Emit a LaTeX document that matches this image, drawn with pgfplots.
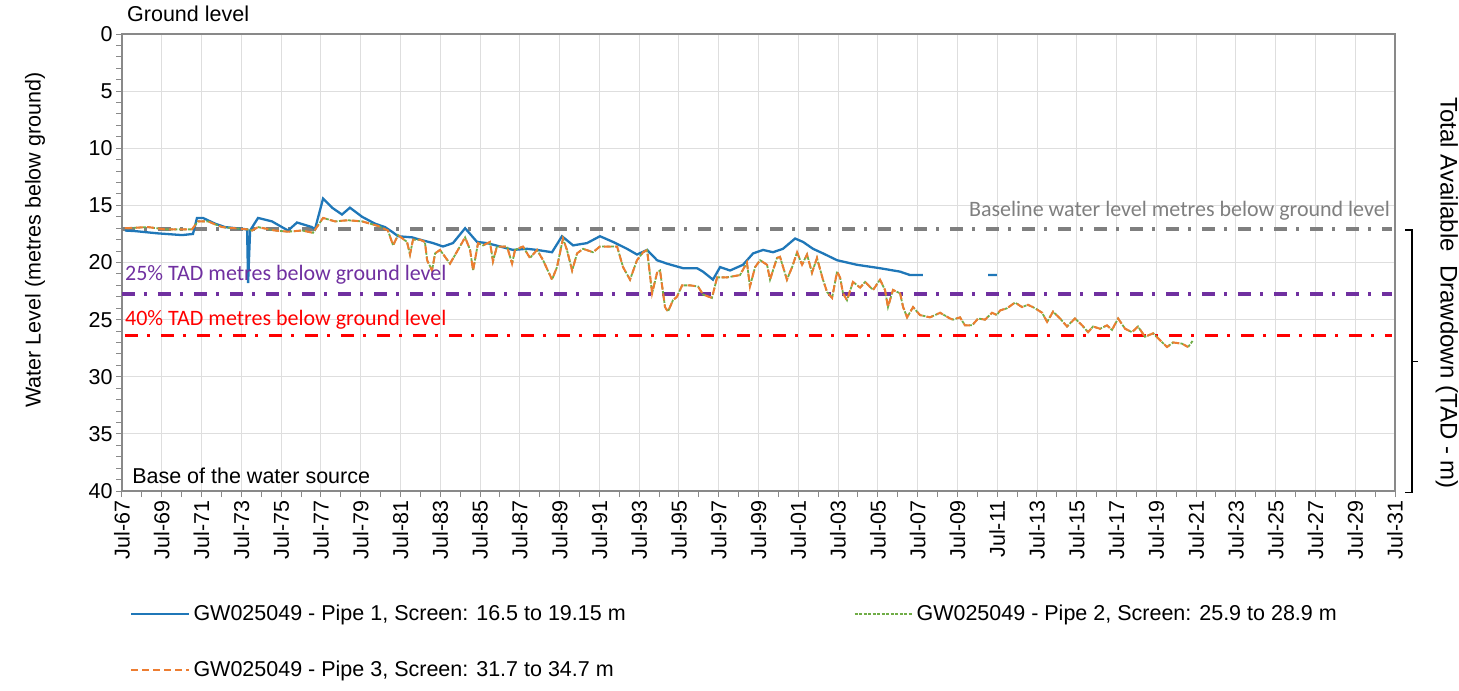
\documentclass[border=0pt]{standalone}
\usepackage{pgfplots}
\pgfplotsset{compat=1.18}
\usepackage{pgfplotstable}
\usepackage{fontspec}
\setmainfont{Liberation Sans}
\newfontfamily\calibri{Carlito}
\definecolor{pblue}{RGB}{31,119,184}
\definecolor{porange}{RGB}{237,125,49}
\definecolor{pgreen}{RGB}{112,173,71}
\definecolor{basegray}{RGB}{127,127,127}
\definecolor{tadpurple}{RGB}{112,48,160}
\definecolor{tadred}{RGB}{255,0,0}
\definecolor{gridgray}{RGB}{222,222,222}
\definecolor{axisgray}{RGB}{137,137,137}
\newcommand\af{\fontsize{21.5bp}{25bp}\selectfont}
\newcommand\rf{\fontsize{24bp}{28bp}\selectfont}
\newcommand\cf{\calibri\fontsize{22bp}{26bp}\selectfont}

\pgfplotstableread{
x y
1967.65 17.2
1968.15 17.25
1969.31 17.45
1970.52 17.6
1971.07 17.5
1971.27 16.1
1971.57 16.1
1972.18 16.6
1972.68 16.9
1973.79 17.1
1973.84 21.8
1973.94 17.2
1974.34 16.1
1975.04 16.4
1975.54 16.9
1975.85 17.2
1976.30 16.5
1977.05 16.9
1977.20 17.1
1977.61 14.4
1978.06 15.2
1978.56 15.8
1978.96 15.2
1979.57 16.0
1980.22 16.6
1980.72 16.9
1981.07 17.3
1981.38 17.7
1982.08 17.8
1982.48 18.0
1983.14 18.3
1983.64 18.6
1984.14 18.3
1984.75 17.0
1985.35 18.2
1985.85 18.3
1986.51 18.6
1987.16 18.9
1987.86 18.8
1988.37 18.9
1989.12 19.1
1989.62 17.7
1990.18 18.5
1990.88 18.3
1991.53 17.7
1992.19 18.2
1992.89 18.8
1993.39 19.3
1993.90 18.9
1994.40 19.8
1994.90 20.1
1995.71 20.5
1996.41 20.5
1996.71 20.8
1997.21 21.5
1997.57 20.4
1998.07 20.7
1998.72 20.2
1999.23 19.2
1999.73 18.9
2000.23 19.1
2000.73 18.8
2001.34 17.9
2001.74 18.2
2002.24 18.8
2002.74 19.2
2003.45 19.8
2004.45 20.2
2005.61 20.5
2006.62 20.8
2007.12 21.1
2007.77 21.1
2009.00 nan
2011.04 21.1
2011.49 21.1
}\pipeone

\pgfplotstableread{
x y
1967.65 17.0
1968.81 16.9
1969.66 17.1
1971.02 17.1
1971.32 16.4
1971.82 16.4
1972.53 16.9
1973.79 17.1
1974.04 17.2
1974.34 16.9
1975.19 17.2
1975.85 17.3
1976.55 17.2
1977.10 17.4
1977.61 16.1
1978.21 16.4
1978.86 16.3
1979.57 16.4
1980.37 16.8
1980.87 17.2
1981.13 18.5
1981.38 17.6
1981.83 18.2
1981.98 19.3
1982.13 18.0
1982.48 18.0
1982.73 18.2
1982.84 19.8
1983.09 20.7
1983.24 19.2
1983.49 18.9
1983.99 20.1
1984.39 18.9
1984.75 17.8
1985.00 18.9
1985.15 20.7
1985.40 18.3
1985.65 18.5
1986.00 18.2
1986.15 19.9
1986.35 18.6
1986.86 18.6
1987.11 20.1
1987.26 18.9
1987.66 18.6
1988.01 19.6
1988.37 18.9
1988.67 19.8
1989.12 21.5
1989.37 20.4
1989.67 17.9
1989.87 18.9
1990.13 20.7
1990.38 19.2
1990.68 18.8
1991.18 19.1
1991.53 18.6
1991.89 18.6
1992.39 18.6
1992.69 20.4
1993.04 21.5
1993.39 19.8
1993.70 19.1
1993.90 18.9
1994.15 22.7
1994.40 20.9
1994.55 20.7
1994.80 23.9
1994.95 24.3
1995.20 23.3
1995.40 23.0
1995.66 22.0
1996.06 22.0
1996.46 22.1
1996.71 22.8
1997.16 23.1
1997.42 21.3
1997.92 21.3
1998.57 21.1
1998.92 20.0
1999.07 22.1
1999.33 20.4
1999.58 19.8
1999.93 20.2
2000.08 21.5
2000.43 19.6
2000.58 19.5
2000.93 21.5
2001.19 20.4
2001.44 19.1
2001.69 20.2
2001.94 19.3
2002.19 20.9
2002.44 19.6
2002.74 21.5
2002.95 22.6
2003.20 23.1
2003.45 20.8
2003.60 21.3
2003.75 22.7
2003.95 23.3
2004.25 21.7
2004.61 22.2
2004.86 21.7
2005.26 22.4
2005.61 21.5
2005.86 22.4
2006.01 23.9
2006.26 22.4
2006.62 22.7
2006.77 23.9
2006.97 24.8
2007.27 23.9
2007.62 24.6
2008.12 24.8
2008.63 24.4
2009.13 24.9
2009.28 25.0
2009.63 24.8
2009.88 25.5
2010.24 25.5
2010.54 24.9
2010.89 25.0
2011.24 24.4
2011.49 24.6
2011.64 24.2
2012.00 24.0
2012.40 23.5
2012.75 23.9
2013.05 23.7
2013.40 24.0
2013.76 24.4
2014.01 25.2
2014.31 24.3
2014.66 24.9
2015.01 25.6
2015.41 24.9
2015.77 25.5
2016.07 26.1
2016.32 25.6
2016.67 25.8
2017.02 25.5
2017.27 25.9
2017.58 24.9
2017.93 25.8
2018.28 26.1
2018.58 25.6
2018.93 26.5
2019.34 26.2
2019.69 26.8
2020.04 27.4
2020.34 27.0
2020.79 27.1
2021.10 27.4
}\pipethree

\begin{document}
\begin{tikzpicture}
\useasboundingbox (-122bp,-200bp) rectangle (1337bp,491bp);
\begin{axis}[
  scale only axis, width=1273bp, height=457bp,
  xmin=1967.5, xmax=2031.5, ymin=0, ymax=40, y dir=reverse,
  xtick={1967.5,1969.5,1971.5,1973.5,1975.5,1977.5,1979.5,1981.5,1983.5,1985.5,1987.5,1989.5,1991.5,1993.5,1995.5,1997.5,1999.5,2001.5,2003.5,2005.5,2007.5,2009.5,2011.5,2013.5,2015.5,2017.5,2019.5,2021.5,2023.5,2025.5,2027.5,2029.5,2031.5},
  xticklabels={Jul-67,Jul-69,Jul-71,Jul-73,Jul-75,Jul-77,Jul-79,Jul-81,Jul-83,Jul-85,Jul-87,Jul-89,Jul-91,Jul-93,Jul-95,Jul-97,Jul-99,Jul-01,Jul-03,Jul-05,Jul-07,Jul-09,Jul-11,Jul-13,Jul-15,Jul-17,Jul-19,Jul-21,Jul-23,Jul-25,Jul-27,Jul-29,Jul-31},
  x tick label style={rotate=90, anchor=east},
  ytick={0,5,10,15,20,25,30,35,40},
  minor x tick num=1, minor y tick num=4,
  tick align=outside, tick pos=left,
  major tick length=6bp, minor tick length=6bp,
  grid=major, major grid style={color=gridgray, line width=0.9bp},
  axis line style={color=axisgray, line width=1.3bp},
  tick style={color=axisgray, line width=1bp},
  every tick label/.append style={font=\af, text=black},
  /pgf/number format/assume math mode=true,
  clip=false,
  unbounded coords=jump,
  legend columns=2,
  legend cell align=left,
  legend image code/.code={\draw[#1] (0bp,0bp) -- (58bp,0bp);},
  legend style={at={(axis description cs:0.0063,-0.243)}, anchor=north west,
    draw=none, fill=none, font=\af, inner sep=0pt, row sep=33bp,
    nodes={inner sep=3bp},
    /tikz/every even column/.append style={column sep=225bp}},
]
% reference lines
\addplot[forget plot, color=basegray, line width=3.5bp, dash pattern=on 13bp off 9bp on 3bp off 11bp] coordinates {(1967.5,17.05) (2031.35,17.05)};
\addplot[forget plot, color=tadpurple, line width=3.5bp, dash pattern=on 13bp off 9bp on 3bp off 11bp] coordinates {(1967.5,22.75) (2031.35,22.75)};
\addplot[forget plot, color=tadred, line width=3.5bp, dash pattern=on 13bp off 9bp on 3bp off 11bp] coordinates {(1967.65,26.4) (2031.35,26.4)};
% series
\addplot[color=pblue, line width=2.3bp, solid] table[x=x,y=y] {\pipeone};
\addlegendentry{GW025049 - Pipe 1, Screen: 16.5 to 19.15 m}
\addplot[color=pgreen, line width=1.8bp, dash pattern=on 3bp off 1.5bp] table[x=x,y=y] {\pipethree};
\addlegendentry{GW025049 - Pipe 2, Screen: 25.9 to 28.9 m}
\addplot[forget plot, color=pgreen, line width=1.8bp, dash pattern=on 3bp off 1.5bp] coordinates {(2021.10,27.4) (2021.35,26.8)};
\addplot[color=porange, line width=2bp, dash pattern=on 7bp off 4bp] table[x=x,y=y] {\pipethree};
\addlegendentry{GW025049 - Pipe 3, Screen: 31.7 to 34.7 m}
% annotations
\node[anchor=east, inner sep=0pt, font=\cf, text=basegray] at (axis cs:2031.25,15.5) {Baseline water level metres below ground level};
\node[anchor=west, inner sep=0pt, font=\cf, text=tadpurple] at (axis cs:1967.65,21.1) {25\% TAD metres below ground level};
\node[anchor=west, inner sep=0pt, font=\cf, text=tadred] at (axis cs:1967.65,25.0) {40\% TAD metres below ground level};
\node[anchor=west, inner sep=0pt, font=\af] at (axis description cs:0.0039,1.0438) {Ground level};
\node[anchor=west, inner sep=0pt, font=\af] at (axis description cs:0.0079,0.0328) {Base of the water source};
\node[rotate=90, inner sep=0pt, font=\af] at (axis description cs:-0.0683,0.549) {Water Level (metres below ground)};
\node[rotate=-90, inner sep=0pt, font=\rf] at (axis description cs:1.0408,0.433) {Total Available\ \ Drawdown (TAD - m)};
\draw[line width=1.2bp, black] (axis description cs:1.0079,0.571) -- (axis description cs:1.0134,0.571) -- (axis description cs:1.0134,-0.004) -- (axis description cs:1.0079,-0.004);
\draw[line width=1.2bp, black] (axis description cs:1.0134,0.2835) -- (axis description cs:1.018,0.2835);
\end{axis}
\end{tikzpicture}
\end{document}
